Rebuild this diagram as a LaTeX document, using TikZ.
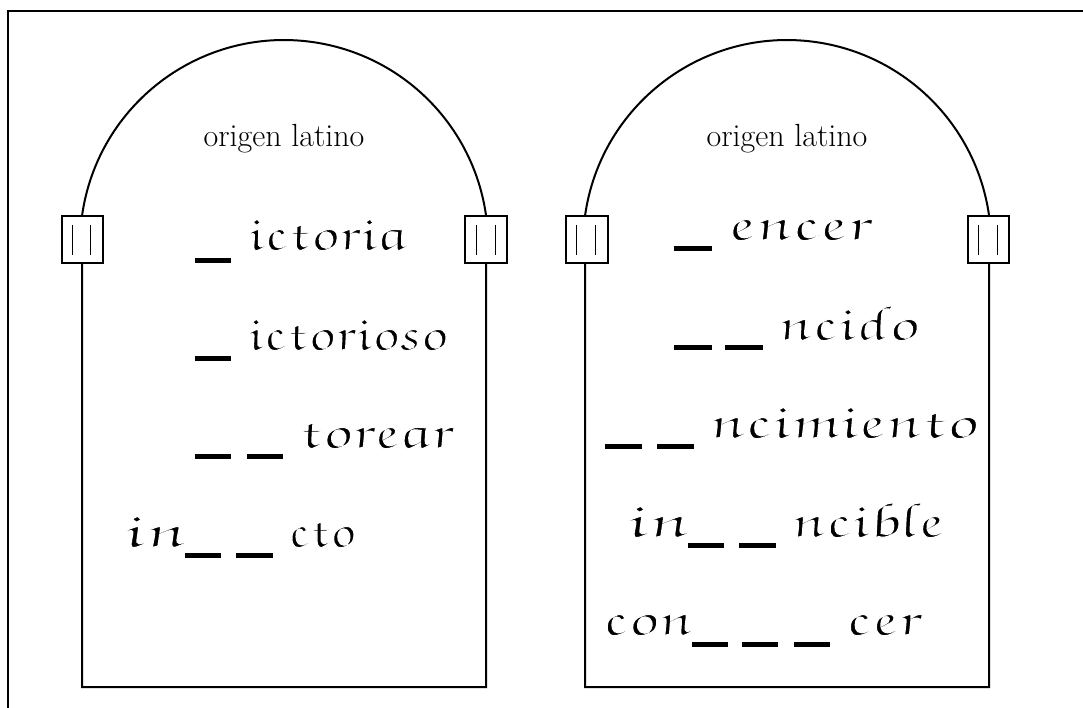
\documentclass[tikz,border=0pt]{standalone}
\usepackage[T1,TU]{fontenc}
\usepackage{graphicx}
\newcommand\curfont{\fontencoding{T1}\fontfamily{pzc}\fontseries{mb}\fontshape{it}\fontsize{50}{56}\selectfont}
\newcommand\thinon{\special{pdf:literal direct 2 Tr 1 1 1 RG 1.0 w}}
\newcommand\thinoff{\special{pdf:literal direct 0 Tr 0 0 0 RG}}
\newcommand\cw[2]{\resizebox{#1pt}{\height}{\curfont\thinon #2\thinoff}}
\newcommand\wordat[5]{\begin{scope}[shift={(#2,#3)}]
  \node[word,xslant=-0.3,transform shape] (#1) at (0,0) {\cw{#4}{#5}};\end{scope}}
\tikzset{
  frame/.style={line width=2.2pt},
  tablet/.style={line width=2pt},
  clasp/.style={line width=1.8pt, fill=white},
  claspline/.style={line width=0.6pt},
  blank/.style={fill=black},
  word/.style={inner sep=0pt, anchor=base west},
  title/.style={inner sep=0pt, anchor=base, font=\fontsize{32}{36}\selectfont}
}
\begin{document}
\begin{tikzpicture}[x=1pt,y=-1pt]
\useasboundingbox (0,0) rectangle (1083,708);
% outer frame (top and left edges)
\draw[frame] (8,708) -- (8,11) -- (1083,11);
% tablets
\draw[tablet] (82,687) -- (82,216) arc[start angle=172.1,end angle=7.9,radius=204pt] -- (486,687) -- cycle;
\draw[tablet] (585,687) -- (585,216) arc[start angle=172.1,end angle=7.9,radius=204pt] -- (989,687) -- cycle;
% clasps
\foreach \a/\b/\c/\d in {62/103/72/90, 465/507/476/495, 566/608/576/595, 968/1009/978/997}{
  \draw[clasp] (\a,216) rectangle (\b,263);
  \draw[claspline] (\c,225) -- (\c,255) (\d,225) -- (\d,255);
}
% titles
\node[title] (t1) at (284,147) {origen latino};
\node[title] (t2) at (787,147) {origen latino};
% left tablet
\fill[blank] (195,258) rectangle (231,263);
\wordat{l1}{247}{250}{159}{ictoria}
\fill[blank] (195,356) rectangle (231,361);
\wordat{l2}{247}{350}{200}{ictorioso}
\fill[blank] (195,454) rectangle (231,459);
\fill[blank] (247,454) rectangle (283,459);
\wordat{l3}{298}{448}{154}{torear}
\wordat{l4a}{122}{547}{63}{in}
\fill[blank] (185,553) rectangle (221,558);
\fill[blank] (236,553) rectangle (273,558);
\wordat{l4b}{288}{547}{67}{cto}
% right tablet
\fill[blank] (674,246) rectangle (712,251);
\wordat{r1}{727}{240}{143}{encer}
\fill[blank] (674,345) rectangle (712,350);
\fill[blank] (725,345) rectangle (763,350);
\wordat{r2}{777}{340}{141}{ncido}
\fill[blank] (605,444) rectangle (642,449);
\fill[blank] (657,444) rectangle (694,449);
\wordat{r3}{708}{438}{269}{ncimiento}
\wordat{r4a}{625}{537}{63}{in}
\fill[blank] (688,543) rectangle (724,548);
\fill[blank] (739,543) rectangle (776,548);
\wordat{r4b}{790}{537}{153}{ncible}
\wordat{r5a}{602}{635}{90}{con}
\fill[blank] (692,642) rectangle (728,647);
\fill[blank] (742,642) rectangle (778,647);
\fill[blank] (794,642) rectangle (830,647);
\wordat{r5b}{845}{635}{75}{cer}
\end{tikzpicture}
\end{document}
